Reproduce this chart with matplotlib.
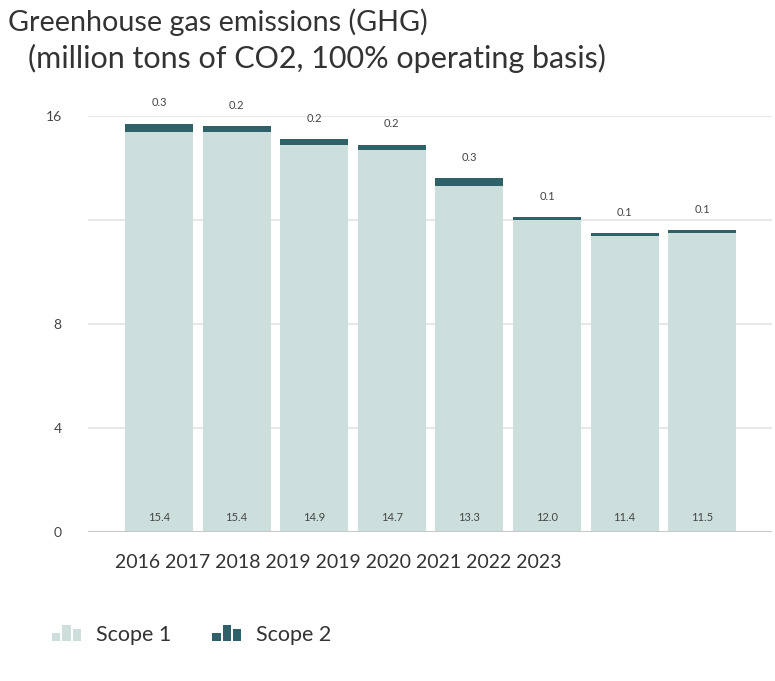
import matplotlib
matplotlib.use("Agg")
import matplotlib.pyplot as plt
from matplotlib.legend_handler import HandlerBase
from matplotlib.patches import Rectangle, Patch

plt.rcParams['font.family'] = ['Lato', 'DejaVu Sans']

# Data
years = ['2016', '2017', '2018', '2019', '2019', '2020', '2021', '2022', '2023']
scope1 = [15.4, 15.4, 14.9, 14.7, 13.3, 12.0, 11.4, 11.5]
scope2 = [0.3, 0.2, 0.2, 0.2, 0.3, 0.1, 0.1, 0.1]
yticks = [0, 4, 8, 16]
gridlines = [4, 8, 12, 16]

light = '#cddfdd'
dark = '#2f6168'
txt = '#444444'


# Small bar-chart icon for the legend
class BarIcon(HandlerBase):
    def create_artists(self, legend, orig_handle, xdescent, ydescent,
                       width, height, fontsize, trans):
        color = orig_handle.get_facecolor()
        hs = [0.5, 1.0, 0.75]
        w = width / 3.5
        out = []
        for k, h in enumerate(hs):
            r = Rectangle((-xdescent + k * w * 1.25, -ydescent), w, h * height * 1.05,
                          facecolor=color, edgecolor='none', transform=trans)
            out.append(r)
        return out


fig = plt.figure(figsize=(7.75, 6.81), dpi=100)
ax = fig.add_axes([88 / 775, 1 - 532 / 681, (772 - 88) / 775, (532 - 116) / 681])

x = list(range(len(scope1)))
ax.bar(x, scope1, width=0.876, color=light, zorder=2)
ax.bar(x, scope2, width=0.876, bottom=scope1, color=dark, zorder=2)

# labels: scope 1 at bar foot, scope 2 above bar
for i in x:
    ax.text(i, 0.55, f'{scope1[i]:.1f}', ha='center', va='center',
            fontsize=8, color=txt, zorder=3)
    ax.text(i, scope1[i] + scope2[i] + 0.8, f'{scope2[i]:.1f}', ha='center',
            va='center', fontsize=8, color=txt, zorder=3)

ax.set_xlim(-0.915, 7.9)
ax.set_ylim(0, 16)
for g in gridlines:
    ax.axhline(g, color='#e8e8e8', lw=1.5, zorder=1)
ax.axhline(0, color='#c8c8c8', lw=1.5, zorder=3)

ax.set_yticks(yticks)
ax.set_yticklabels([str(t) for t in yticks])
ax.tick_params(axis='y', length=0, pad=19, labelsize=10, labelcolor=txt)
ax.set_xticks([])
for s in ax.spines.values():
    s.set_visible(False)

# year labels as one run of text, as in the source
fig.text(115 / 775, 1 - 562 / 681, ' '.join(years), ha='left', va='center',
         fontsize=14, color='#333333')

fig.text(8 / 775, 1 - 22 / 681, 'Greenhouse gas emissions (GHG)',
         ha='left', va='center', fontsize=20.7, color='#333333')
fig.text(28 / 775, 1 - 58 / 681, '(million tons of CO2, 100% operating basis)',
         ha='left', va='center', fontsize=22, color='#333333')

handles = [Patch(facecolor=light, label='Scope 1'), Patch(facecolor=dark, label='Scope 2')]
fig.legend(handles=handles, loc='center left', bbox_to_anchor=(52 / 775, 1 - 635 / 681),
           ncol=2, frameon=False, fontsize=15.5, labelcolor='#333333',
           handler_map={Patch: BarIcon()}, handlelength=1.35, handleheight=0.7,
           handletextpad=0.7, columnspacing=1.9, borderpad=0, borderaxespad=0)

fig.savefig('out.png', dpi=100, facecolor='white')
